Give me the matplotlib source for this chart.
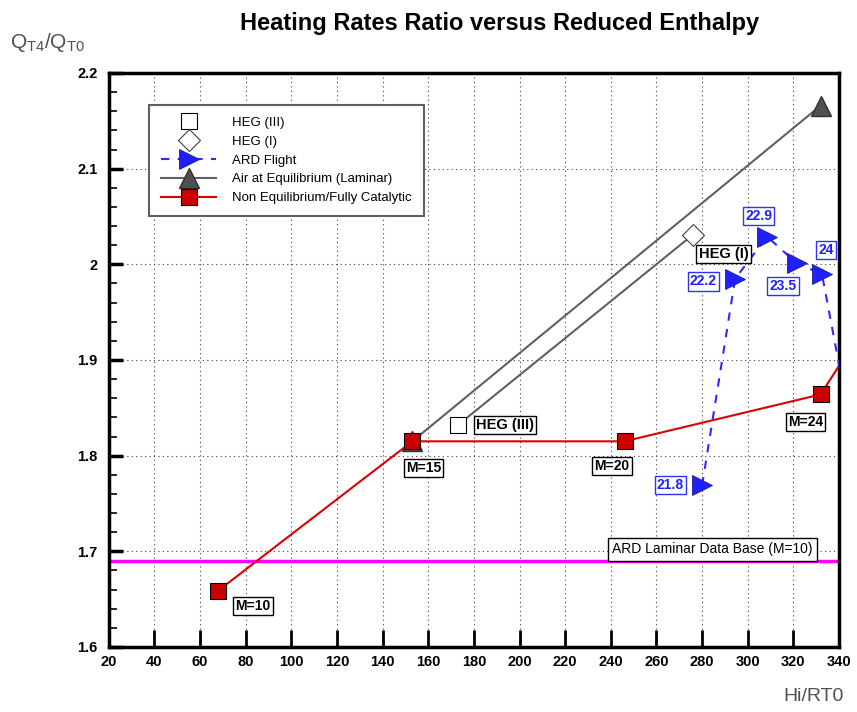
import numpy as np
import matplotlib.pyplot as plt
from matplotlib.ticker import MultipleLocator

plt.rcParams['font.family'] = ['Liberation Sans', 'DejaVu Sans']

# Non equilibrium / fully catalytic (red), last point lies past the frame
neq_x = [68, 153, 246, 332, 348]
neq_y = [1.659, 1.815, 1.815, 1.864, 1.924]
neq_lab = ['M=10', 'M=15', 'M=20', 'M=24']

# Air at equilibrium (laminar)
air_x = [153, 332]
air_y = [1.815, 2.166]

# HEG tunnel points
heg3_x, heg3_y = 173, 1.832
heg1_x, heg1_y = 276, 2.031

# ARD flight points, labelled with Mach number
ard_x = [280, 294.5, 308.5, 321.5, 332.5, 348]
ard_y = [1.769, 1.985, 2.029, 2.001, 1.990, 1.795]
ard_lab = ['21.8', '22.2', '22.9', '23.5', '24']

ard_base = 1.69

fig = plt.figure(figsize=(8.57, 7.12), dpi=100)
ax = fig.add_axes([0.127, 0.0913, 0.852, 0.8062])

ax.axhline(ard_base, color='#ff00ff', lw=2.5, zorder=2)

ax.plot([heg3_x, heg1_x], [heg3_y, heg1_y], color='#606060', lw=1.5, zorder=2)
h_air, = ax.plot(air_x, air_y, color='#606060', lw=1.5, marker='^', ms=15,
                 mfc='#505050', mec='#303030', label='Air at Equilibrium (Laminar)', zorder=3)
h_neq, = ax.plot(neq_x, neq_y, color='#dd0000', lw=1.5, marker='s', ms=11,
                 mfc='#cc0000', mec='black', mew=0.8,
                 label='Non Equilibrium/Fully Catalytic', zorder=4)
h_ard, = ax.plot(ard_x, ard_y, color='#2a2aff', lw=1.5, ls=(0, (4, 4)), marker='>', ms=14,
                 mfc='#2020ff', mec='#202080', mew=0.6, label='ARD Flight', zorder=4)
h_heg3, = ax.plot([heg3_x], [heg3_y], ls='none', marker='s', ms=12, mfc='white', mec='black',
                  mew=0.8, label='HEG (III)', zorder=5)
h_heg1, = ax.plot([heg1_x], [heg1_y], ls='none', marker='D', ms=11, mfc='white', mec='#404040',
                  mew=0.8, label='HEG (I)', zorder=5)

black_box = dict(boxstyle='square,pad=0.15', fc='white', ec='black', lw=1)
blue_box = dict(boxstyle='square,pad=0.15', fc='white', ec='#3030ff', lw=1)

neq_off = [(25, -11), (8, -19), (-9, -18), (-11, -20)]
for x, y, t, off in zip(neq_x, neq_y, neq_lab, neq_off):
    ax.annotate(t, (x, y), xytext=off, textcoords='offset points', ha='center',
                va='center', fontsize=10, fontweight='bold', bbox=black_box, zorder=6)

ax.annotate('HEG (III)', (heg3_x, heg3_y), xytext=(13, 0), textcoords='offset points',
            ha='left', va='center', fontsize=10.5, fontweight='bold', bbox=black_box, zorder=6)
ax.annotate('HEG (I)', (heg1_x, heg1_y), xytext=(22, -14), textcoords='offset points',
            ha='center', va='center', fontsize=10.5, fontweight='bold', bbox=black_box, zorder=6)

ard_off = [(-23, 0), (-23, -2), (-6, 15), (-10, -16), (3, 17)]
for x, y, t, off in zip(ard_x, ard_y, ard_lab, ard_off):
    ax.annotate(t, (x, y), xytext=off, textcoords='offset points', ha='center',
                va='center', fontsize=10, fontweight='bold', color='#2020ff',
                bbox=blue_box, zorder=6)

ax.text(0.964, 1.702, 'ARD Laminar Data Base (M=10)', transform=ax.get_yaxis_transform(),
        ha='right', va='center', fontsize=10, bbox=dict(boxstyle='square,pad=0.3', fc='white',
                                                        ec='black', lw=1), zorder=6)

ax.set_xlim(20, 340)
ax.set_ylim(1.6, 2.2)
ax.xaxis.set_major_locator(MultipleLocator(20))
ax.yaxis.set_minor_locator(MultipleLocator(0.02))
ax.set_yticks(np.arange(1.6, 2.21, 0.1))
ax.set_yticklabels(['1.6', '1.7', '1.8', '1.9', '2', '2.1', '2.2'])
ax.tick_params(axis='x', which='major', direction='in', length=12, width=2, pad=6)
ax.tick_params(axis='y', which='major', direction='in', length=10, width=2.5, pad=8)
ax.tick_params(axis='y', which='minor', direction='in', length=6, width=1.2)
for lab in ax.get_xticklabels() + ax.get_yticklabels():
    lab.set_fontweight('bold')
    lab.set_fontsize(10.5)
ax.grid(True, which='major', ls=(0, (1, 3)), color='#404040', lw=0.8)
ax.set_axisbelow(True)
for s in ax.spines.values():
    s.set_linewidth(2.5)

leg = ax.legend(handles=[h_heg3, h_heg1, h_ard, h_air, h_neq],
                loc='upper left', bbox_to_anchor=(0.046, 0.956), fontsize=9.5,
                handlelength=4.2, handletextpad=1.2, labelspacing=0.5, borderpad=0.9,
                fancybox=False, framealpha=1, edgecolor='#606060')
leg.get_frame().set_linewidth(1.5)

fig.text(0.583, 0.967, 'Heating Rates Ratio versus Reduced Enthalpy', ha='center', va='center',
         fontsize=17, fontweight='bold')
fig.text(0.012, 0.94, r'$\mathregular{Q_{T4}/Q_{T0}}$', ha='left', va='center', fontsize=15,
         color='#505050')
fig.text(0.984, 0.022, 'Hi/RT0', ha='right', va='center', fontsize=14, color='#505050')

fig.savefig('out.png', dpi=100)
